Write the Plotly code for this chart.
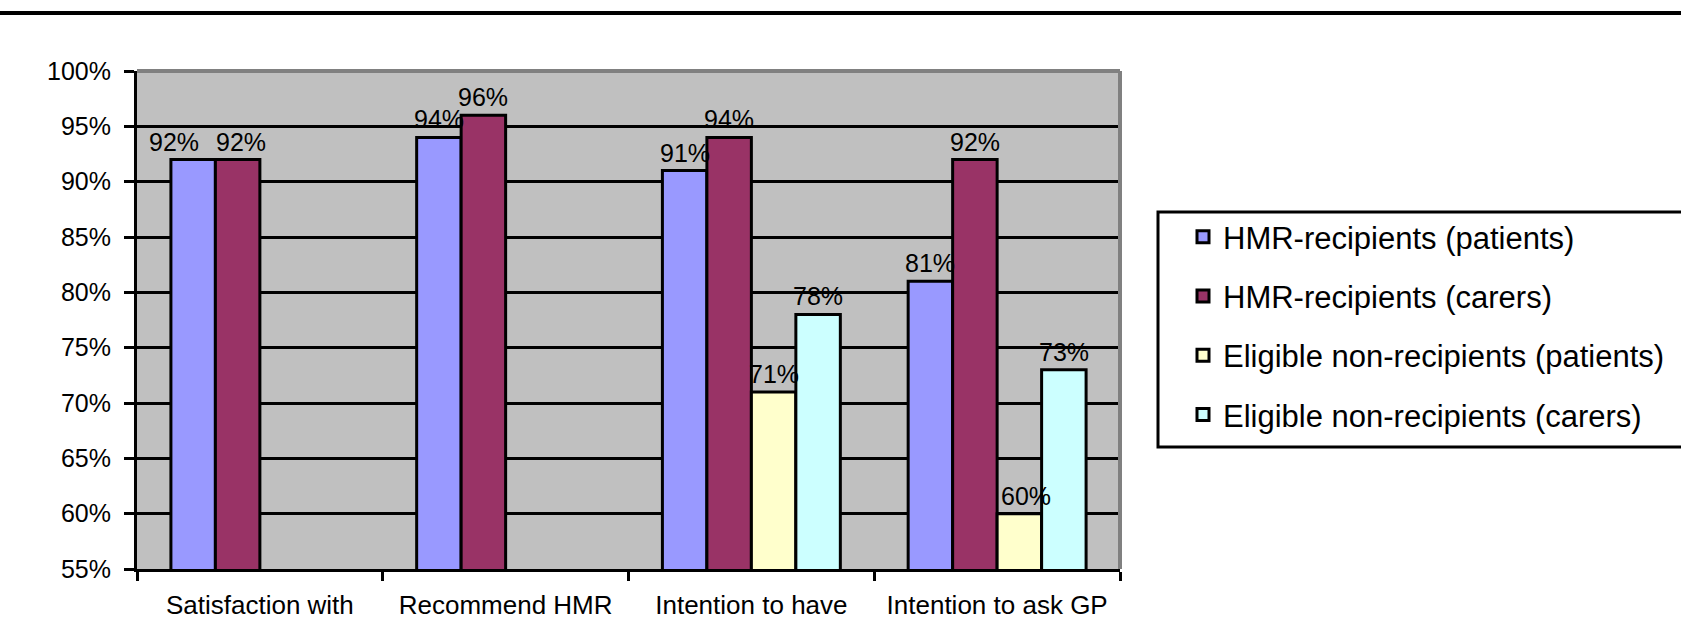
import plotly.graph_objects as go

categories = ["Satisfaction with", "Recommend HMR", "Intention to have", "Intention to ask GP"]
series_names = [
    "HMR-recipients (patients)",
    "HMR-recipients (carers)",
    "Eligible non-recipients (patients)",
    "Eligible non-recipients (carers)",
]
hmr_patients = [92, 94, 91, 81]
hmr_carers = [92, 96, 94, 92]
elig_patients = [None, None, 71, 60]
elig_carers = [None, None, 78, 73]
colors = ["#9999FF", "#993366", "#FFFFCC", "#CCFFFF"]
y_ticks = [55, 60, 65, 70, 75, 80, 85, 90, 95, 100]

# label nudges (series index, category index) -> px, mimicking the original layout
label_nudge = {(0, 0): -19, (1, 0): 3, (2, 3): 7}

W, H = 1681, 622
L, R, T, B = 137, 1120, 71, 569
pw, ph = R - L, B - T
BARGAP = 0.276
LEG_L, LEG_T, LEG_B = 1158, 212, 447

FONT = "Liberation Sans, Arial, sans-serif"

all_series = [hmr_patients, hmr_carers, elig_patients, elig_carers]
fig = go.Figure()
for name, vals, col in zip(series_names, all_series, colors):
    fig.add_trace(go.Bar(
        x=categories, y=vals, name=name, legendgroup=name,
        marker=dict(color=col, line=dict(color="black", width=3)),
    ))

n = len(all_series)
bw = (1 - BARGAP) / n
annotations = []
for i, vals in enumerate(all_series):
    for j, v in enumerate(vals):
        if v is None:
            continue
        annotations.append(dict(
            x=j + (i - (n - 1) / 2) * bw, y=v, xref="x", yref="y",
            text=f"{v}%", showarrow=False, xanchor="center", yanchor="bottom",
            yshift=2, xshift=label_nudge.get((i, j), 0),
            font=dict(family=FONT, size=25, color="black"),
        ))

def px_x(x):
    return (x - L) / pw

def px_y(y):
    return (B - y) / ph

fig.update_layout(
    width=W, height=H,
    margin=dict(l=L, r=W - R, t=T, b=H - B, pad=0, autoexpand=False),
    paper_bgcolor="white", plot_bgcolor="#C0C0C0",
    barmode="group", bargap=BARGAP, bargroupgap=0,
    font=dict(family=FONT, size=25, color="black"),
    showlegend=True,
    legend=dict(
        x=px_x(LEG_L + 3), y=px_y(LEG_T - 2), xanchor="left", yanchor="top",
        bgcolor="rgba(0,0,0,0)", borderwidth=0,
        font=dict(family=FONT, size=31, color="black"),
        tracegroupgap=16, indentation=22, traceorder="grouped",
    ),
    xaxis=dict(
        type="category", tickson="boundaries", ticks="outside", ticklen=9,
        tickwidth=3, tickcolor="black", showline=True, linecolor="black",
        linewidth=3, showgrid=False, tickfont=dict(family=FONT, size=26),
        ticklabelstandoff=11, automargin=False,
    ),
    yaxis=dict(
        range=[55, 100], tickvals=y_ticks, ticktext=[f"{v}%" for v in y_ticks],
        ticks="outside", ticklen=10, tickwidth=3, tickcolor="black",
        showline=True, linecolor="black", linewidth=3,
        showgrid=True, gridcolor="black", gridwidth=3,
        tickfont=dict(family=FONT, size=25), ticklabelstandoff=8, zeroline=False,
        automargin=False,
    ),
    annotations=annotations,
    shapes=[
        dict(type="line", xref="paper", yref="paper", x0=0, x1=1, y0=1, y1=1,
             line=dict(color="#808080", width=4), layer="above"),
        dict(type="line", xref="paper", yref="paper", x0=1, x1=1, y0=0, y1=1,
             line=dict(color="#808080", width=4), layer="above"),
        dict(type="line", xref="paper", yref="paper",
             x0=px_x(0), x1=px_x(W), y0=px_y(13), y1=px_y(13),
             line=dict(color="black", width=4)),
        dict(type="rect", xref="paper", yref="paper",
             x0=px_x(LEG_L), x1=px_x(W + 20), y0=px_y(LEG_B), y1=px_y(LEG_T),
             line=dict(color="black", width=3), fillcolor="white", layer="below"),
    ],
)

fig.write_html("out.html")
